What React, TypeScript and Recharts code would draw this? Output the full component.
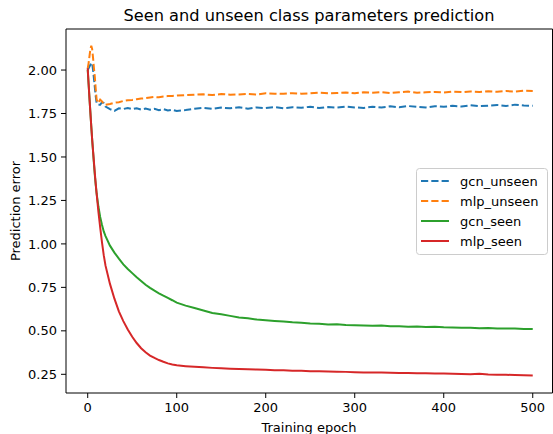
import { LineChart, Line, XAxis, YAxis, ReferenceArea, Legend } from 'recharts';

const epochs = [
  0, 1, 2, 3, 4, 5, 6, 7, 8, 9, 10,
  12, 14, 16, 18, 20,
  25, 30, 35, 40, 45, 50, 55, 60, 65, 70, 75, 80, 85, 90, 95, 100,
  110, 120, 130, 140, 150, 160, 170, 180, 190, 200,
  210, 220, 230, 240, 250, 260, 270, 280, 290, 300,
  310, 320, 330, 340, 350, 360, 370, 380, 390, 400,
  410, 420, 430, 440, 450, 460, 470, 480, 490, 500,
];

const gcnUnseen = [
  2.0, 2.01, 2.02, 2.03, 2.04, 2.04, 2.0, 1.95, 1.9, 1.85, 1.81,
  1.8, 1.8, 1.815, 1.81, 1.79,
  1.775, 1.765, 1.78, 1.776, 1.782, 1.775, 1.78, 1.773, 1.778, 1.772, 1.777, 1.769, 1.775, 1.767, 1.771, 1.764,
  1.77, 1.778, 1.782, 1.777, 1.784, 1.78, 1.786, 1.778, 1.785, 1.781,
  1.787, 1.78, 1.786, 1.783, 1.789, 1.781, 1.787, 1.784, 1.79, 1.785,
  1.782, 1.789, 1.784, 1.791, 1.786, 1.793, 1.788, 1.785, 1.792, 1.789,
  1.794, 1.79, 1.797, 1.792, 1.795, 1.799, 1.793, 1.801, 1.796, 1.794,
];

const mlpUnseen = [
  2.01, 2.04, 2.08, 2.12, 2.14, 2.12, 2.07, 2.01, 1.96, 1.89, 1.83,
  1.81, 1.83, 1.82, 1.805, 1.8,
  1.805, 1.812, 1.815, 1.822, 1.826, 1.828, 1.832, 1.836, 1.838, 1.842, 1.845, 1.843, 1.848, 1.85, 1.851, 1.853,
  1.856, 1.858, 1.86, 1.856, 1.862, 1.858, 1.86, 1.862, 1.859, 1.866,
  1.864, 1.863, 1.867, 1.864, 1.866, 1.87, 1.866, 1.868, 1.871, 1.867,
  1.872, 1.87, 1.873, 1.868, 1.872, 1.876, 1.869, 1.872, 1.874, 1.871,
  1.876, 1.873, 1.877, 1.874, 1.878, 1.875, 1.879, 1.876, 1.881, 1.879,
];

const gcnSeen = [
  2.0, 1.92, 1.835, 1.755, 1.675, 1.6, 1.53, 1.46, 1.395, 1.34, 1.29,
  1.215, 1.155, 1.11, 1.072, 1.045,
  0.99, 0.95, 0.915, 0.882, 0.856, 0.832, 0.808, 0.787, 0.765, 0.747, 0.731, 0.716, 0.702, 0.689, 0.676, 0.662,
  0.645, 0.631, 0.617, 0.603, 0.595, 0.586, 0.577, 0.572, 0.565, 0.561,
  0.557, 0.554, 0.549, 0.547, 0.542, 0.541, 0.537, 0.538, 0.533, 0.532,
  0.531, 0.529, 0.53, 0.527, 0.526, 0.524, 0.525, 0.522, 0.523, 0.52,
  0.519, 0.518, 0.518, 0.515, 0.516, 0.514, 0.513, 0.513, 0.511, 0.51,
];

const mlpSeen = [
  2.01, 1.92, 1.835, 1.755, 1.675, 1.6, 1.535, 1.47, 1.405, 1.345, 1.29,
  1.185, 1.095, 1.01, 0.935, 0.875,
  0.77, 0.685, 0.612, 0.556, 0.508, 0.466, 0.43, 0.4, 0.377, 0.358, 0.344, 0.332, 0.322, 0.313, 0.307, 0.302,
  0.297, 0.293, 0.29, 0.287, 0.285, 0.282, 0.28, 0.279, 0.277, 0.276,
  0.274, 0.273, 0.271, 0.27, 0.268, 0.267, 0.266, 0.265, 0.264, 0.262,
  0.261, 0.261, 0.26, 0.259, 0.258, 0.257, 0.256, 0.256, 0.255, 0.254,
  0.253, 0.252, 0.251, 0.253, 0.249, 0.248, 0.247, 0.246, 0.245, 0.243,
];

const xTicks = [0, 100, 200, 300, 400, 500];
const yTicks = [0.25, 0.5, 0.75, 1.0, 1.25, 1.5, 1.75, 2.0];

const series = [
  { key: 'gcn_unseen', color: '#1f77b4', dashed: true },
  { key: 'mlp_unseen', color: '#ff7f0e', dashed: true },
  { key: 'gcn_seen', color: '#2ca02c', dashed: false },
  { key: 'mlp_seen', color: '#d62728', dashed: false },
];

const data = epochs.map((epoch, i) => ({
  epoch,
  gcn_unseen: gcnUnseen[i],
  mlp_unseen: mlpUnseen[i],
  gcn_seen: gcnSeen[i],
  mlp_seen: mlpSeen[i],
}));

const FONT = 'DejaVu Sans';
const X_DOMAIN = [-24.4, 522.2];
const Y_DOMAIN = [0.1425, 2.236];
const DASH = '7.2 3.1';

function LegendBox() {
  return (
    <svg width={132} height={87} style={{ display: 'block' }}>
      <rect x={0.5} y={0.5} width={131} height={86} rx={3} ry={3}
        fill="#fff" fillOpacity={0.8} stroke="#cccccc" strokeWidth={1} />
      {series.map((s, i) => {
        const y = 13 + i * 20;
        return (
          <g key={s.key}>
            <line x1={5} x2={33} y1={y} y2={y} stroke={s.color} strokeWidth={2}
              strokeDasharray={s.dashed ? DASH : undefined} />
            <text x={44} y={y} dy="0.36em" fontFamily={FONT} fontSize={13} fill="#000">
              {s.key}
            </text>
          </g>
        );
      })}
    </svg>
  );
}

export default function App() {
  const tickStyle = { fontSize: 13, fill: '#000', fontFamily: FONT };
  return (
    <div style={{ position: 'absolute', left: 0, top: 0, background: '#fff' }}>
      <LineChart width={553} height={434} data={data}
        margin={{ top: 29, right: 0.5, bottom: 0, left: 0 }}>
        <XAxis dataKey="epoch" type="number" domain={X_DOMAIN} allowDataOverflow
          ticks={xTicks} height={41} tick={tickStyle} tickSize={5} tickMargin={5}
          axisLine={false} tickLine={{ stroke: '#000' }} />
        <YAxis type="number" domain={Y_DOMAIN} allowDataOverflow ticks={yTicks}
          width={66} tick={tickStyle} tickSize={5} tickMargin={4}
          tickFormatter={(v: number) => v.toFixed(2)}
          axisLine={false} tickLine={{ stroke: '#000' }} />
        <ReferenceArea x1={X_DOMAIN[0]} x2={X_DOMAIN[1]} y1={Y_DOMAIN[0]} y2={Y_DOMAIN[1]}
          fill="none" stroke="#000" strokeWidth={1} fillOpacity={0} />
        {series.map((s) => (
          <Line key={s.key} dataKey={s.key} type="linear" stroke={s.color} strokeWidth={2}
            strokeDasharray={s.dashed ? DASH : undefined} dot={false} activeDot={false}
            isAnimationActive={false} />
        ))}
        <Legend layout="horizontal" verticalAlign="middle" align="center"
          content={() => <LegendBox />}
          wrapperStyle={{ position: 'absolute', left: 416, top: 168, width: 132, height: 87 }} />
        <text x={309} y={21} textAnchor="middle" fontFamily={FONT} fontSize={16.2} fill="#000">
          Seen and unseen class parameters prediction
        </text>
        <text x={309} y={431.5} textAnchor="middle" fontFamily={FONT} fontSize={13} fill="#000">
          Training epoch
        </text>
        <text transform="translate(19.5,211) rotate(-90)" textAnchor="middle" fontFamily={FONT}
          fontSize={13} fill="#000">
          Prediction error
        </text>
      </LineChart>
    </div>
  );
}
